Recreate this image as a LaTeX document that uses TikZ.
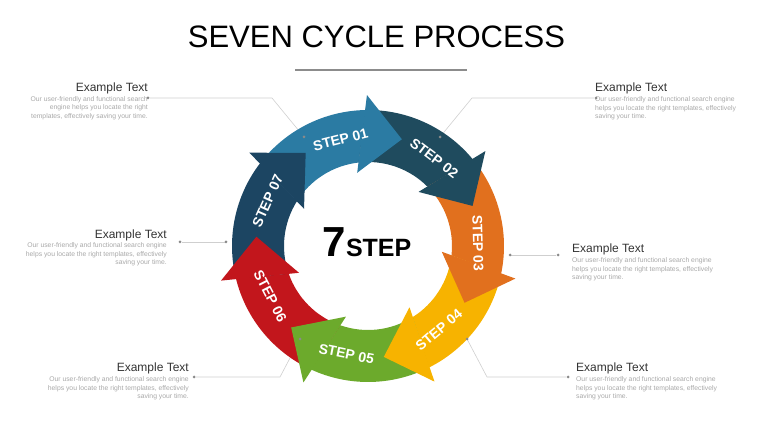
\documentclass[tikz,border=0pt]{standalone}
\usepackage{fontspec}
\setmainfont{Liberation Sans}
\usetikzlibrary{positioning}
\definecolor{stepone}{HTML}{2B7BA3}
\definecolor{steptwo}{HTML}{1F4B5E}
\definecolor{stepthree}{HTML}{E1701E}
\definecolor{stepfour}{HTML}{F7B300}
\definecolor{stepfive}{HTML}{6CAA2C}
\definecolor{stepsix}{HTML}{C2161C}
\definecolor{stepseven}{HTML}{1C4562}
\definecolor{inkdark}{HTML}{333333}
\definecolor{inklight}{HTML}{A8A8A8}
\definecolor{leadgrey}{HTML}{CFCFCF}
\definecolor{pingrey}{HTML}{8A8A8A}
\definecolor{rulegrey}{HTML}{8C8C8C}

\begin{document}
\begin{tikzpicture}[x=1pt,y=1pt,
			tit/.style={font=\fontsize{31}{34}\selectfont,inner sep=0pt},
			hd/.style={font=\fontsize{12}{14}\selectfont,text=inkdark,inner sep=0pt},
			dsl/.style={font=\fontsize{6.8}{8.5}\selectfont,text=inklight,inner sep=0pt,align=right},
			dsr/.style={font=\fontsize{6.8}{8.5}\selectfont,text=inklight,inner sep=0pt,align=left},
			lead/.style={draw=leadgrey,line width=0.6pt},
			pin/.style={circle,fill=pingrey,inner sep=0pt,minimum size=3pt},
			lbl/.style={font=\bfseries\fontsize{14}{16}\selectfont,text=white,inner sep=0pt}
			]
			\useasboundingbox (0,0) rectangle (760,428);
			\node[tit,anchor=base] (title) at (376.5,380) {SEVEN CYCLE PROCESS};
			\coordinate (ul) at (295,358);
			\coordinate (ur) at (467,358);
			\draw[rulegrey,line width=1.5pt] (ul) -- (ur);

			\node[hd,anchor=base east] (e1) at (148,336) {Example Text};
			\node[dsl] (d1) [below left=4.3pt and 0pt of e1.base east] {Our user-friendly and functional search\\engine helps you locate the right\\templates, effectively saving your time.};
			\node[hd,anchor=base west] (e2) at (595,336) {Example Text};
			\node[dsr] (d2) [below right=4.8pt and 0pt of e2.base west] {Our user-friendly and functional search engine\\helps you locate the right templates, effectively\\saving your time.};
			\node[hd,anchor=base east] (e3) at (167,189) {Example Text};
			\node[dsl] (d3) [below left=3.8pt and 0pt of e3.base east] {Our user-friendly and functional search engine\\helps you locate the right templates, effectively\\saving your time.};
			\node[hd,anchor=base west] (e4) at (572,175) {Example Text};
			\node[dsr] (d4) [below right=4.8pt and 0pt of e4.base west] {Our user-friendly and functional search engine\\helps you locate the right templates, effectively\\saving your time.};
			\node[hd,anchor=base east] (e5) at (189,56) {Example Text};
			\node[dsl] (d5) [below left=4.8pt and 0pt of e5.base east] {Our user-friendly and functional search engine\\helps you locate the right templates, effectively\\saving your time.};
			\node[hd,anchor=base west] (e6) at (576,56) {Example Text};
			\node[dsr] (d6) [below right=4.8pt and 0pt of e6.base west] {Our user-friendly and functional search engine\\helps you locate the right templates, effectively\\saving your time.};

			\node[pin] (p1) at (148,330) {};
			\node[pin] (p2) at (596,330) {};
			\node[pin] (p3) at (180,186) {};
			\node[pin] (p4) at (558,173) {};
			\node[pin] (p5) at (194,51) {};
			\node[pin] (p6) at (568,51) {};
			\coordinate (b1) at (272,330);
			\coordinate (b2) at (472,330);
			\coordinate (b5) at (280,51);
			\coordinate (b6) at (487,51);
			\coordinate (q1) at (304,291);
			\coordinate (q2) at (440,291);
			\coordinate (q3) at (226,186);
			\coordinate (q4) at (510,173);
			\coordinate (q5) at (300,89);
			\coordinate (q6) at (467,89);
			\draw[lead] (p1) -- (b1) -- (q1);
			\draw[lead] (p2) -- (b2) -- (q2);
			\draw[lead] (p3) -- (q3);
			\draw[lead] (p4) -- (q4);
			\draw[lead] (p5) -- (b5) -- (q5);
			\draw[lead] (p6) -- (b6) -- (q6);

			\begin{scope}[shift={(368,182)}]
				\foreach \col [count=\k] in {stepone,steptwo,stepthree,stepfour,stepfive,stepsix,stepseven} {
					\pgfmathsetmacro{\a}{90.4-51.43*(\k-1)}
					\pgfmathsetmacro{\ao}{\a+0.5}
					\pgfmathsetmacro{\ai}{\a+6}
					\pgfmathsetmacro{\bo}{\a+51.43+0.5}
					\pgfmathsetmacro{\bi}{\a+51.43+6}
					\fill[\col] (\bo:136) arc[start angle=\bo,end angle=\ao,radius=136] -- (\ai:84) arc[start angle=\ai,end angle=\bi,radius=84] -- cycle;
				}
				\foreach \col [count=\k] in {stepone,steptwo,stepthree,stepfour,stepfive,stepsix,stepseven} {
					\pgfmathsetmacro{\a}{90.4-51.43*(\k-1)}
					\pgfmathsetmacro{\t}{mod(\a+14+540,360)-180}
					\pgfmathsetmacro{\r}{\t<0 ? \t+90 : \t-90}
					\fill[\col] (\a:151) -- (\a-18:112) -- (\a+8:74) -- cycle;
					\node[lbl,rotate=\r] (s\k) at (\t:110) {STEP 0\k};
				}
			\end{scope}

			\node[pin] (r1) at (q1) {};
			\node[pin] (r2) at (q2) {};
			\node[pin] (r3) at (q3) {};
			\node[pin] (r4) at (q4) {};
			\node[pin] (r5) at (q5) {};
			\node[pin] (r6) at (q6) {};
			\node[anchor=base,inner sep=0pt] (mid) at (367,171) {\bfseries\fontsize{42}{44}\selectfont 7\fontsize{25}{28}\selectfont STEP};
		\end{tikzpicture}
\end{document}
